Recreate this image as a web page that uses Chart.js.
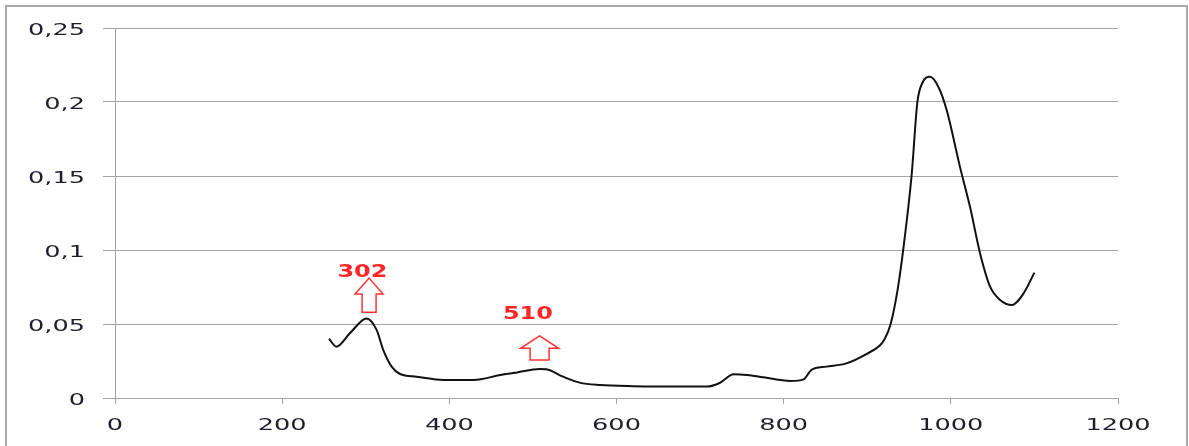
<!DOCTYPE html>
<html>
<head>
<meta charset="utf-8">
<script src="https://cdn.jsdelivr.net/npm/chart.js@4"></script>
<style>
    body { margin: 0; background: #fff; overflow: hidden; }
    #wrap { position: relative; width: 1189px; height: 446px; }
    #frame {
        position: absolute; left: 5px; top: 5px; width: 1183px; height: 500px;
        border: 2px solid #a9a9a9; box-sizing: border-box; pointer-events: none;
    }
    canvas { position: absolute; left: 0; top: 0; }
</style>
</head>
<body>
<div id="wrap">
    <canvas id="chart" width="1189" height="446"></canvas>
    <div id="frame"></div>
</div>
<script>
// spectrum
const wavelengths = [256, 265, 281, 301, 313, 321, 331, 341, 361, 393, 429, 461, 481, 508, 516, 536, 556, 580, 620, 676, 708,
    724, 740, 756, 776, 796, 808, 824, 833, 851, 875, 899, 915, 921, 928, 936, 943, 953, 960, 966, 975, 985, 995,
    1011, 1023, 1035, 1047, 1059, 1073, 1087, 1100];
const absorbance = [0.040, 0.0347, 0.0437, 0.0538, 0.046, 0.0324, 0.0212, 0.0162, 0.0144, 0.0122, 0.0122, 0.0155, 0.0173,
    0.0196, 0.0194, 0.0144, 0.0104, 0.0088, 0.0080, 0.0077, 0.0077, 0.0103, 0.016, 0.0155, 0.014, 0.0122, 0.0115,
    0.0126, 0.0189, 0.0212, 0.0234, 0.0297, 0.0355, 0.040, 0.050, 0.072, 0.100, 0.150, 0.200, 0.213, 0.217,
    0.2103, 0.1946, 0.156, 0.129, 0.0977, 0.0752, 0.0662, 0.0628, 0.0707, 0.0847];

const xTicks = [0, 200, 400, 600, 800, 1000, 1200];
const xTickLabels = ['0', '200', '400', '600', '800', '1000', '1200'];
const yTicks = [0, 0.05, 0.1, 0.15, 0.2, 0.25];
const yTickLabels = ['0', '0,05', '0,1', '0,15', '0,2', '0,25'];

// peak markers
const markLabels = ['302', '510'];
const markLabelX = [296, 494];
const markLabelY = [0.082, 0.0532];
const markX = [304, 508];
const markTop = [0.081, 0.0419];
const markBottom = [0.0579, 0.0257];

const gridColor = '#a3a3a3';

const stretchedText = {
    id: 'stretchedText',
    afterDraw(chart) {
        const ctx = chart.ctx;
        const xs = chart.scales.x, ys = chart.scales.y;

        function put(text, x, y, align, font, color, sx) {
            ctx.save();
            ctx.translate(x, y);
            ctx.scale(sx, 1);
            ctx.font = font;
            ctx.fillStyle = color;
            ctx.textAlign = align;
            ctx.textBaseline = 'alphabetic';
            ctx.fillText(text, 0, 0);
            ctx.restore();
        }

        yTicks.forEach((v, i) => {
            put(yTickLabels[i], ys.right - 30, ys.getPixelForValue(v) + 6.5, 'right', '16px "DejaVu Sans"', '#1e1e2c', 1.6);
        });
        xTicks.forEach((v, i) => {
            put(xTickLabels[i], xs.getPixelForValue(v), 430, 'center', '16px "DejaVu Sans"', '#1e1e2c', 1.6);
        });

        // hollow up arrows
        const heads = [[14, 7, 16], [19, 9.5, 12.3]];
        markLabels.forEach((lab, i) => {
            const cx = xs.getPixelForValue(markX[i]);
            const top = ys.getPixelForValue(markTop[i]);
            const bot = ys.getPixelForValue(markBottom[i]);
            const [hw, sw, hh] = heads[i];
            ctx.save();
            ctx.beginPath();
            ctx.moveTo(cx, top);
            ctx.lineTo(cx + hw, top + hh);
            ctx.lineTo(cx + sw, top + hh);
            ctx.lineTo(cx + sw, bot);
            ctx.lineTo(cx - sw, bot);
            ctx.lineTo(cx - sw, top + hh);
            ctx.lineTo(cx - hw, top + hh);
            ctx.closePath();
            ctx.fillStyle = '#fff';
            ctx.fill();
            ctx.strokeStyle = '#ff3333';
            ctx.lineWidth = 1.5;
            ctx.stroke();
            ctx.restore();

            put(lab, xs.getPixelForValue(markLabelX[i]), ys.getPixelForValue(markLabelY[i]), 'center',
                'bold 17px "DejaVu Sans"', '#ff2626', 1.41);
        });
    }
};

new Chart(document.getElementById('chart'), {
    type: 'line',
    data: {
        datasets: [{
            data: wavelengths.map((w, i) => ({ x: w, y: absorbance[i] })),
            borderColor: '#111',
            borderWidth: 2,
            pointRadius: 0,
            cubicInterpolationMode: 'monotone',
            fill: false
        }]
    },
    options: {
        responsive: false,
        animation: false,
        layout: { padding: { left: 0, right: 71, top: 28, bottom: 0 } },
        plugins: { legend: { display: false }, tooltip: { enabled: false } },
        scales: {
            x: {
                type: 'linear',
                min: 0,
                max: 1200,
                ticks: { display: false, stepSize: 200 },
                grid: { drawOnChartArea: false, drawTicks: true, tickLength: 6, color: gridColor },
                border: { color: gridColor },
                afterFit(s) { s.height = 48; }
            },
            y: {
                min: 0,
                max: 0.25,
                ticks: { display: false, stepSize: 0.05 },
                grid: { color: gridColor, tickLength: 12 },
                border: { color: gridColor },
                afterFit(s) { s.width = 115; }
            }
        }
    },
    plugins: [stretchedText]
});
</script>
</body>
</html>
